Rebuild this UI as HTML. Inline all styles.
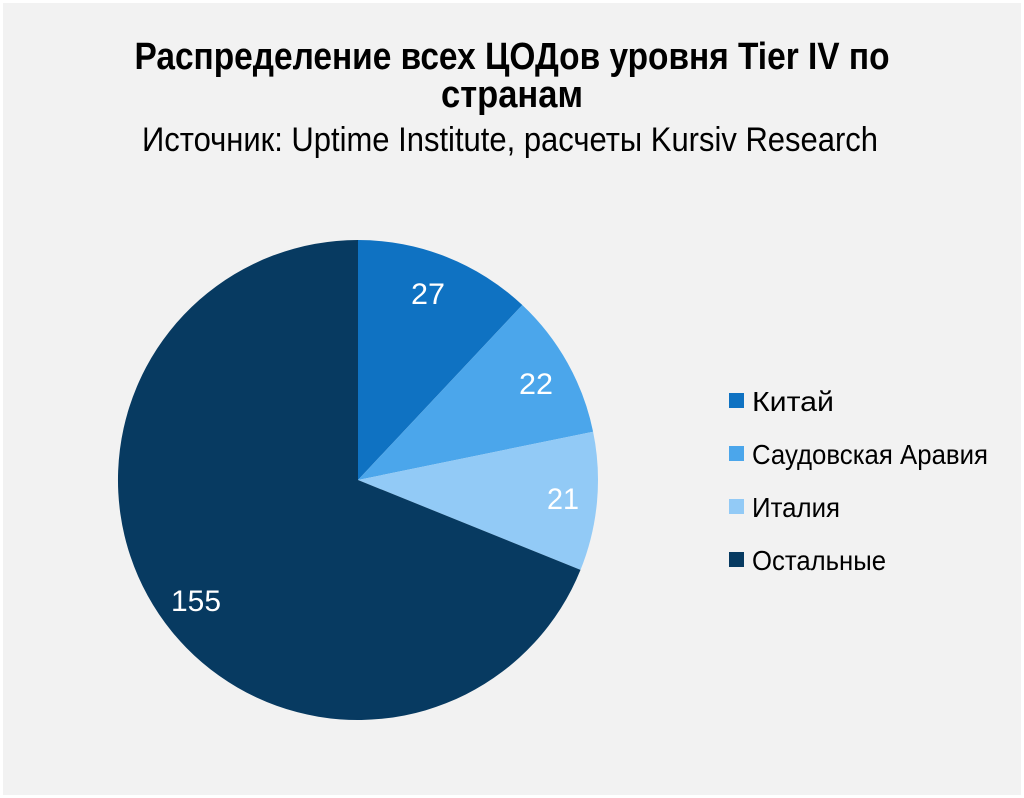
<!DOCTYPE html>
<html><head><meta charset="utf-8"><style>
html,body{margin:0;padding:0;background:#fff;}
svg{display:block;}
text{font-family:"Liberation Sans Narrow","Liberation Sans",sans-serif;}
</style></head><body>
<svg width="1024" height="798" viewBox="0 0 1024 798" xmlns="http://www.w3.org/2000/svg">
<rect x="3" y="3" width="1018" height="792" fill="#f2f2f2"/>
<text x="512" y="69" text-anchor="middle" font-size="38" font-weight="bold" fill="#000" textLength="755" lengthAdjust="spacingAndGlyphs">Распределение всех ЦОДов уровня Tier IV по</text>
<text x="512" y="107" text-anchor="middle" font-size="38" font-weight="bold" fill="#000" textLength="142" lengthAdjust="spacingAndGlyphs">странам</text>
<text x="510" y="151" text-anchor="middle" font-size="34" fill="#000" textLength="736" lengthAdjust="spacingAndGlyphs">Источник: Uptime Institute, расчеты Kursiv Research</text>
<g>
<path d="M358 480 L358 240 A240 240 0 0 1 522.3 305 Z" fill="#0f72c2"/>
<path d="M358 480 L522.3 305 A240 240 0 0 1 593.1 431.7 Z" fill="#4ba6eb"/>
<path d="M358 480 L593.1 431.7 A240 240 0 0 1 580.5 569.9 Z" fill="#92caf6"/>
<path d="M358 480 L580.5 569.9 A240 240 0 1 1 358 240 Z" fill="#073a61"/>
</g>
<g fill="#fff" font-size="30" text-anchor="middle">
<text x="428" y="304" textLength="34" lengthAdjust="spacingAndGlyphs">27</text>
<text x="536" y="394" textLength="34" lengthAdjust="spacingAndGlyphs">22</text>
<text x="563" y="509" textLength="32" lengthAdjust="spacingAndGlyphs">21</text>
<text x="196" y="611" textLength="50" lengthAdjust="spacingAndGlyphs">155</text>
</g>
<g font-size="28" fill="#000">
<rect x="729" y="393" width="15" height="15" fill="#0f72c2"/>
<text x="752" y="411" textLength="82" lengthAdjust="spacingAndGlyphs">Китай</text>
<rect x="729" y="446" width="15" height="15" fill="#4ba6eb"/>
<text x="752" y="464" textLength="236" lengthAdjust="spacingAndGlyphs">Саудовская Аравия</text>
<rect x="729" y="499" width="15" height="15" fill="#92caf6"/>
<text x="752" y="517" textLength="88" lengthAdjust="spacingAndGlyphs">Италия</text>
<rect x="729" y="552" width="15" height="15" fill="#073a61"/>
<text x="752" y="570" textLength="134" lengthAdjust="spacingAndGlyphs">Остальные</text>
</g>
</svg>
</body></html>
